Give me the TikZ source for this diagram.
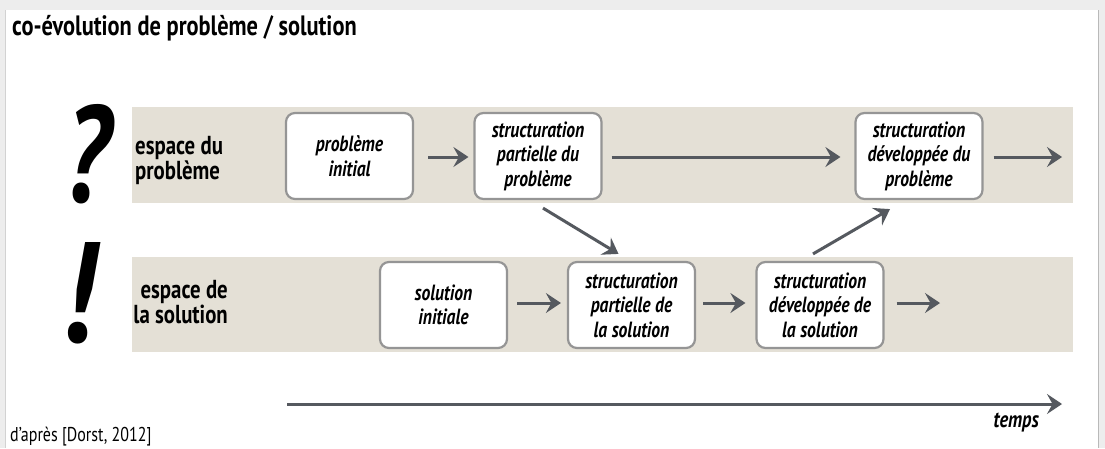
\documentclass[tikz,border=0pt]{standalone}
\usepackage{fontspec}
\setmainfont{PT Sans}[FakeStretch=0.8]
\usetikzlibrary{arrows.meta}
\definecolor{bandc}{HTML}{E4E0D6}
\definecolor{boxline}{HTML}{959595}
\definecolor{arrc}{HTML}{55595F}
\definecolor{shadow}{HTML}{EDEDED}
\tikzset{
  band/.style={fill=bandc, draw=none},
  stagebox/.style={draw=boxline, line width=2.2pt, fill=white, rounded corners=9pt,
    minimum width=127pt, minimum height=86pt, align=center, inner sep=0pt,
    font=\fontsize{22}{24.5}\selectfont\bfseries\itshape},
  flow/.style={draw=arrc, line width=3pt, -{Stealth[length=15pt,width=20pt,inset=5.5pt]}},
  spacelabel/.style={font=\fontsize{26}{23}\selectfont\bfseries, inner sep=0pt},
}
\begin{document}
\begin{tikzpicture}[x=1pt,y=-1pt]
\useasboundingbox (0,0) rectangle (1105,448);
% card and shadow
\fill[shadow] (0,0) rectangle (1105,448);
\fill[white] (6,10) rectangle (1098,448);
\draw[gray!55, line width=1pt] (1098.5,10) -- (1098.5,448);
\draw[gray!35, line width=1pt] (5.5,10) -- (5.5,448);
% bands
\fill[band] (132,107) rectangle (1073,203);
\fill[band] (132,257) rectangle (1073,352);
% title
\node[anchor=base west, inner sep=0pt, font=\fontsize{28}{32}\selectfont\bfseries] (title) at (12,35) {co-évolution de problème / solution};
% big marks
\node[inner sep=0pt] (qmark) at (87,154) {\resizebox{45pt}{98pt}{\bfseries\itshape ?}};
\node[inner sep=0pt] (emark) at (77,293) {\resizebox{34pt}{100pt}{\bfseries\itshape !}};
% space labels
\node[spacelabel, anchor=base west, align=left] (lprob) at (135,179) {espace du\\problème};
\node[spacelabel, anchor=base east, align=right] (lsol) at (228,323) {espace de\\la solution};
% boxes
\node[stagebox] (pi) at (349.5,156) {problème\\initial};
\node[stagebox] (sp) at (538,156) {structuration\\partielle du\\problème};
\node[stagebox] (sd) at (919,156) {structuration\\développée du\\problème};
\node[stagebox] (si) at (443.5,305) {solution\\initiale};
\node[stagebox] (ssp) at (631.5,305) {structuration\\partielle de\\la solution};
\node[stagebox] (ssd) at (820,305) {structuration\\développée de\\la solution};
% end coordinates
\coordinate (pend) at (1062,157);
\coordinate (send) at (940,303);
\coordinate (t0) at (287,404);
\coordinate (t1) at (1062,404);
% arrows
\draw[flow] ([xshift=14pt,yshift=-1pt]pi.east) -- ([xshift=-5pt,yshift=-1pt]sp.west);
\draw[flow] ([xshift=9pt,yshift=-1pt]sp.east) -- ([xshift=-14pt,yshift=-1pt]sd.west);
\draw[flow] ([xshift=10pt,yshift=-1pt]sd.east) -- (pend);
\draw[flow] ([xshift=9pt,yshift=2pt]si.east) -- ([xshift=-6pt,yshift=2pt]ssp.west);
\draw[flow] ([xshift=7pt,yshift=2pt]ssp.east) -- ([xshift=-10pt,yshift=2pt]ssd.west);
\draw[flow] ([xshift=12pt,yshift=2pt]ssd.east) -- (send);
\draw[flow] ([xshift=5pt,yshift=-8pt]sp.south) -- ([xshift=-13pt,yshift=7pt]ssp.north);
\draw[flow] ([xshift=-7pt,yshift=7pt]ssd.north) -- ([xshift=-29pt,yshift=-9pt]sd.south);
\draw[flow] (t0) -- (t1);
% footer texts
\node[anchor=base east, inner sep=0pt, font=\fontsize{23}{26}\selectfont\bfseries\itshape] (temps) at (1039,427) {temps};
\node[anchor=base west, inner sep=0pt, font=\fontsize{20}{24}\selectfont] (src) at (10,441) {d’après [Dorst, 2012]};
\end{tikzpicture}
\end{document}
